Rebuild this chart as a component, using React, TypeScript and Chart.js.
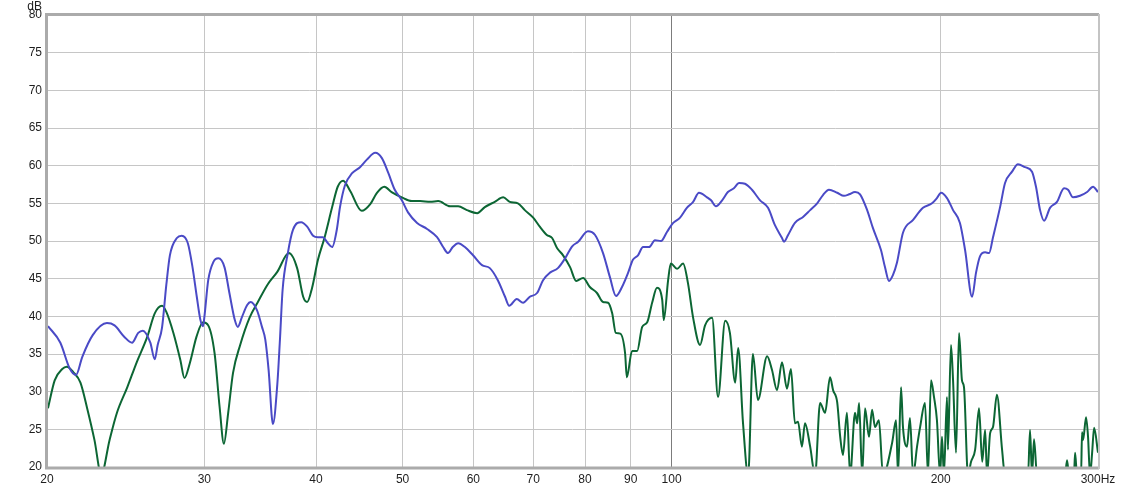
import React, { useEffect, useRef } from "react";
import { Chart, registerables } from "chart.js";

Chart.register(...registerables);

// ---- Data (frequency in Hz, level in dB) ----
const blueFreq = [
  20.05, 20.7, 21.2, 21.55, 21.9, 22.5, 23.34, 23.8, 24.4, 24.9,
  25.3, 25.6, 26.1, 26.4, 26.6, 26.9, 27.2, 27.45, 27.95, 28.3,
  28.75, 29.1, 29.42, 29.7, 29.9, 30.0, 30.3, 30.7, 31.1, 31.6,
  32.0, 32.45, 32.7, 33.05, 33.5, 33.8, 34.36, 34.8, 35.1, 35.4,
  35.8, 36.2, 36.45, 36.7, 37.2, 37.7, 38.5, 39.1, 39.7, 40.2,
  40.7, 41.25, 41.7, 42.2, 42.55, 43.1, 43.9, 44.8, 45.6, 46.6,
  47.4, 48.2, 49.0, 49.9, 50.7, 51.9, 53.25, 54.64, 55.5, 56.2,
  56.9, 57.7, 58.7, 59.95, 61.35, 62.6, 63.9, 65.1, 65.8, 67.1,
  68.2, 69.4, 70.7, 71.8, 73.1, 74.6, 76.0, 77.4, 78.6, 80.6,
  82.1, 83.8, 85.3, 86.65, 88.0, 89.4, 90.5, 91.7, 92.9, 94.35,
  95.8, 97.3, 98.8, 100.4, 102.2, 104.0, 105.7, 107.3, 109.56, 110.7,
  112.1, 113.9, 115.6, 117.4, 119.0, 120.8, 123.0, 125.6, 128.2, 130.5,
  132.9, 133.6, 135.0, 137.4, 140.3, 142.9, 145.5, 147.7, 150.0, 153.2,
  155.9, 158.0, 160.4, 162.5, 165.5, 168.0, 171.5, 173.3, 175.1, 176.9,
  178.7, 181.5, 186.3, 191.1, 195.6, 198.1, 200.2, 203.3, 206.5, 210.2,
  213.0, 216.9, 219.1, 221.4, 224.3, 226.6, 228.9, 233.1, 236.1, 240.4,
  244.1, 248.6, 253.1, 255.7, 258.4, 261.1, 265.1, 269.9, 274.9, 277.7,
  281.3, 286.4, 291.7, 296.2, 300,
];
const blueDb = [
  38.7, 36.5, 33.1, 32.2, 34.6, 37.5, 39.1, 38.8, 37.3, 36.5,
  37.8, 38.1, 36.5, 34.3, 36.2, 38.5, 44.2, 48.1, 50.4, 50.7,
  49.7, 46.5, 42.6, 39.5, 38.7, 39.9, 44.8, 47.2, 47.7, 46.5,
  43.1, 39.5, 38.6, 39.9, 41.5, 41.9, 40.8, 38.6, 36.9, 32.9,
  25.7, 30.9, 36.9, 43.5, 48.4, 51.5, 52.5, 51.9, 50.7, 50.5,
  50.5, 49.7, 49.2, 51.5, 54.5, 57.4, 59.0, 59.8, 60.8, 61.7,
  61.0, 59.0, 56.8, 55.4, 53.8, 52.4, 51.6, 50.5, 49.2, 48.4,
  49.2, 49.7, 49.2, 48.1, 46.8, 46.4, 44.8, 42.6, 41.4, 42.3,
  41.8, 42.6, 43.1, 44.8, 45.8, 46.4, 47.7, 49.3, 49.9, 51.3,
  50.8, 48.4, 45.2, 42.7, 43.9, 45.8, 47.5, 48.1, 49.2, 49.2,
  50.1, 50.0, 51.2, 52.4, 53.1, 54.4, 55.2, 56.4, 55.8, 55.4,
  54.6, 55.4, 56.5, 57.0, 57.7, 57.6, 56.8, 55.4, 54.4, 52.1,
  50.4, 49.9, 50.8, 52.4, 53.2, 54.1, 55.0, 56.1, 56.8, 56.4,
  56.0, 56.2, 56.5, 56.2, 54.1, 51.7, 48.8, 46.5, 44.7, 45.5,
  47.1, 51.1, 52.8, 54.4, 55.0, 55.7, 56.4, 55.7, 54.1, 52.4,
  48.8, 42.6, 45.8, 48.0, 48.5, 48.4, 50.5, 54.5, 57.7, 59.2,
  60.2, 59.8, 59.2, 57.2, 54.1, 52.7, 54.4, 55.2, 57.0, 56.8,
  55.8, 56.0, 56.5, 57.2, 56.5,
];

const greenFreq = [
  20.05, 20.4, 20.8, 21.05, 21.4, 21.8, 22.2, 22.6, 23.0, 23.5,
  23.95, 24.6, 25.2, 25.9, 26.4, 26.9, 27.2, 27.7, 28.2, 28.5,
  28.9, 29.4, 29.9, 30.3, 30.8, 31.2, 31.55, 31.9, 32.3, 32.9,
  33.7, 34.4, 35.3, 36.2, 37.3, 38.1, 38.7, 39.1, 39.6, 40.2,
  40.9, 41.7, 42.3, 42.9, 43.7, 45.0, 46.0, 46.8, 47.7, 48.6,
  49.9, 51.2, 52.3, 53.7, 54.8, 56.5, 57.7, 59.0, 60.6, 61.8,
  63.4, 64.8, 65.9, 67.3, 68.5, 70.0, 71.2, 72.5, 73.5, 74.4,
  75.6, 77.0, 78.2, 79.6, 81.0, 82.5, 83.8, 84.9, 85.8, 86.6,
  87.6, 88.7, 89.1, 90.3, 91.5, 92.7, 93.9, 95.1, 96.3, 97.6,
  98.0, 99.1, 99.8, 101.4, 103.0, 104.3, 105.7, 107.6, 109.0, 111.0,
  112.7, 114.8, 116.2, 117.8, 118.7, 120.2, 121.8, 123.3, 124.9, 127.9,
  129.5, 131.2, 132.9, 134.6, 136.0, 137.4, 138.5, 139.9, 141.0, 142.9,
  144.7, 146.6, 148.5, 150.4, 151.6, 153.2, 154.4, 155.5, 157.1, 158.4,
  160.4, 161.3, 162.1, 163.4, 164.6, 166.3, 167.6, 168.9, 170.6, 172.4,
  176.5, 178.3, 179.2, 180.6, 181.5, 183.4, 184.8, 186.3, 188.2, 189.7,
  192.1, 193.6, 195.1, 196.6, 198.1, 199.7, 200.7, 201.7, 203.3, 203.8,
  205.4, 206.5, 208.1, 209.7, 211.3, 212.4, 214.6, 216.3, 218.6, 220.8,
  222.6, 224.3, 225.4, 227.2, 228.9, 231.2, 234.3, 236.1, 242.2, 250.5,
  251.8, 253.1, 254.4, 256.4, 265.1, 275.6, 277.0, 278.4, 282.0, 282.8,
  284.2, 287.2, 287.9, 288.7, 290.9, 292.4, 293.9, 295.5, 297.0, 300,
];
const greenDb = [
  27.8, 31.5, 33.0, 33.3, 32.6, 31.2, 27.6, 23.6, 19.0, 23.6,
  27.2, 30.6, 33.9, 37.3, 40.4, 41.4, 40.6, 37.8, 34.2, 31.8,
  33.8, 37.3, 39.2, 38.8, 35.1, 28.0, 23.1, 27.2, 32.5, 36.2,
  39.8, 41.8, 44.2, 45.9, 48.4, 46.4, 42.6, 41.9, 43.8, 47.5,
  50.5, 54.5, 57.2, 58.0, 56.6, 54.0, 54.9, 56.4, 57.2, 56.5,
  55.8, 55.3, 55.3, 55.2, 55.3, 54.6, 54.6, 54.1, 53.7, 54.5,
  55.2, 55.8, 55.2, 55.0, 54.1, 53.1, 51.9, 50.8, 50.4, 49.1,
  48.1, 46.5, 44.7, 45.1, 43.9, 43.1, 41.9, 41.8, 40.4, 37.8,
  37.7, 35.1, 31.9, 35.4, 35.4, 38.6, 39.2, 41.8, 43.8, 42.2,
  39.5, 44.8, 47.0, 46.3, 47.0, 44.4, 39.8, 36.2, 38.8, 39.8,
  29.3, 39.4, 37.8, 31.2, 35.8, 25.8, 18.9, 35.0, 28.9, 34.7,
  32.9, 30.2, 33.9, 30.4, 33.0, 25.8, 26.0, 22.7, 25.8, 22.7,
  18.9, 28.5, 27.2, 31.9, 30.2, 28.6, 24.0, 21.6, 27.2, 18.9,
  27.2, 25.8, 28.5, 18.9, 27.8, 24.0, 27.6, 25.3, 26.2, 18.9,
  23.2, 26.2, 18.9, 30.6, 25.3, 22.7, 26.5, 18.9, 22.7, 25.3,
  28.5, 18.9, 31.5, 29.3, 26.2, 18.9, 24.0, 18.9, 29.3, 22.3,
  36.2, 31.5, 21.9, 37.8, 31.5, 30.6, 18.9, 20.7, 22.3, 27.8,
  20.7, 24.9, 18.9, 24.5, 25.3, 29.6, 22.3, 18.9, 18.9, 18.9,
  24.9, 18.9, 23.7, 18.9, 18.9, 18.9, 20.9, 18.9, 18.9, 21.9,
  18.9, 18.9, 24.6, 23.6, 26.6, 24.0, 18.9, 21.9, 25.2, 21.9,
];

const xTickValues = [20, 30, 40, 50, 60, 70, 80, 90, 100, 200, 300];
const xTickLabels = ["20", "30", "40", "50", "60", "70", "80", "90", "100", "200", "300Hz"];
const xMin = 20;
const xMax = 300;
const yMin = 20;
const yMax = 80;
const yStep = 5;
const yUnit = "dB";

const FONT = { family: "'Liberation Sans', Arial, sans-serif", size: 12 };
const TEXT_COLOR = "#1e1e1e";

const framePlugin = {
  id: "frame",
  afterDraw(chart: any) {
    const { ctx, chartArea: a } = chart;
    ctx.save();
    // thick left / top / bottom border
    ctx.strokeStyle = "#ababab";
    ctx.lineWidth = 3;
    ctx.beginPath();
    ctx.moveTo(a.left - 0.5, a.bottom + 1);
    ctx.lineTo(a.left - 0.5, a.top - 0.5);
    ctx.lineTo(a.right + 1, a.top - 0.5);
    ctx.moveTo(a.left - 2, a.bottom + 1);
    ctx.lineTo(a.right + 1, a.bottom + 1);
    ctx.stroke();
    // thin right border
    ctx.strokeStyle = "#c4c4c4";
    ctx.lineWidth = 2;
    ctx.beginPath();
    ctx.moveTo(a.right + 1, a.top - 1);
    ctx.lineTo(a.right + 1, a.bottom + 2);
    ctx.stroke();
    // unit label
    ctx.fillStyle = TEXT_COLOR;
    ctx.font = `${FONT.size}px ${FONT.family}`;
    ctx.textAlign = "right";
    ctx.textBaseline = "alphabetic";
    ctx.fillText(yUnit, a.left - 5, 10);
    ctx.restore();
  },
};

export default function App() {
  const canvasRef = useRef<HTMLCanvasElement | null>(null);

  useEffect(() => {
    const canvas = canvasRef.current;
    if (!canvas) return;
    const chart = new Chart(canvas, {
      type: "line",
      data: {
        datasets: [
          {
            label: "blue",
            data: blueFreq.map((f, i) => ({ x: f, y: blueDb[i] })),
            borderColor: "#4a4ac6",
            borderWidth: 2,
            pointRadius: 0,
            cubicInterpolationMode: "monotone",
            fill: false,
          },
          {
            label: "green",
            data: greenFreq.map((f, i) => ({ x: f, y: greenDb[i] })),
            borderColor: "#0c6634",
            borderWidth: 2,
            pointRadius: 0,
            cubicInterpolationMode: "monotone",
            fill: false,
          },
        ],
      },
      options: {
        animation: false,
        responsive: false,
        devicePixelRatio: window.devicePixelRatio || 1,
        layout: { padding: { left: 0, right: 23, top: 15, bottom: 0 } },
        plugins: {
          legend: { display: false },
          tooltip: { enabled: false },
        },
        scales: {
          x: {
            type: "logarithmic",
            min: xMin,
            max: xMax,
            afterBuildTicks: (scale: any) => {
              scale.ticks = xTickValues.map((v) => ({ value: v }));
            },
            afterFit: (scale: any) => {
              scale.height = 22;
            },
            ticks: {
              autoSkip: false,
              maxRotation: 0,
              padding: 5,
              color: TEXT_COLOR,
              font: FONT,
              callback: (value: any) => {
                const i = xTickValues.indexOf(Number(value));
                return i >= 0 ? xTickLabels[i] : "";
              },
            },
            grid: {
              drawTicks: false,
              lineWidth: 1,
              color: (c: any) => (c.tick && c.tick.value === 100 ? "#7c7c7c" : "#c6c6c6"),
            },
            border: { display: false },
          },
          y: {
            type: "linear",
            min: yMin,
            max: yMax,
            afterFit: (scale: any) => {
              scale.width = 47;
            },
            ticks: {
              stepSize: yStep,
              padding: 5,
              color: TEXT_COLOR,
              font: FONT,
            },
            grid: {
              drawTicks: false,
              lineWidth: 1,
              color: "#c6c6c6",
            },
            border: { display: false },
          },
        },
      },
      plugins: [framePlugin],
    } as any);
    return () => chart.destroy();
  }, []);

  return (
    <div style={{ position: "absolute", left: 0, top: 0, width: 1121, height: 489, background: "#ffffff" }}>
      <canvas ref={canvasRef} width={1121} height={489} style={{ width: 1121, height: 489, display: "block" }} />
    </div>
  );
}
